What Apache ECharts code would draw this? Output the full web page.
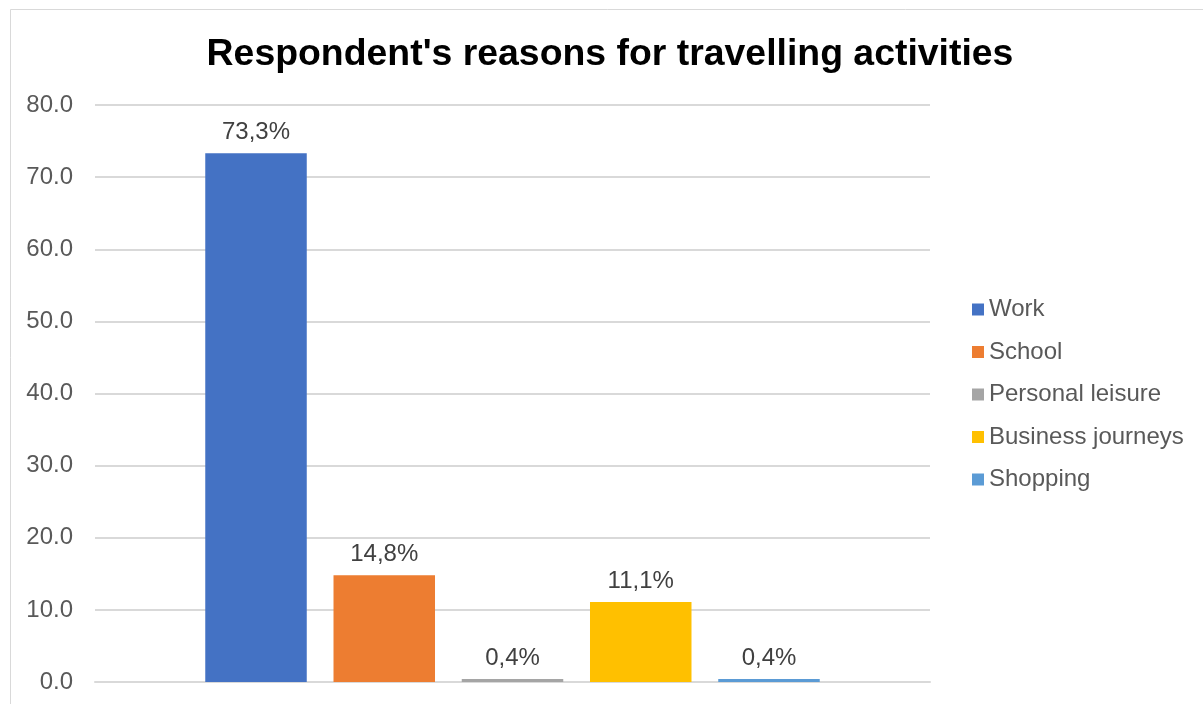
<!DOCTYPE html>
<html>
<head>
<meta charset="utf-8">
<script src="https://cdn.jsdelivr.net/npm/echarts@6/dist/echarts.min.js"></script>
<style>
  html, body { margin: 0; padding: 0; background: #fff; }
  #chart { width: 1203px; height: 704px; }
</style>
</head>
<body>
<div id="chart"></div>
<script>
// Reasons for travelling, share of respondents (%)
const categories = ['Reasons'];
const seriesNames = ['Work', 'School', 'Personal leisure', 'Business journeys', 'Shopping'];
const seriesValues = [73.3, 14.8, 0.4, 11.1, 0.4];
const seriesColors = ['#4472C4', '#ED7D31', '#A5A5A5', '#FFC000', '#5B9BD5'];
const yTicks = [0, 10, 20, 30, 40, 50, 60, 70, 80];

const chart = echarts.init(document.getElementById('chart'), null, { renderer: 'canvas' });

const font = 'Liberation Sans, Arial, sans-serif';

chart.setOption({
  animation: false,
  backgroundColor: '#ffffff',
  title: {
    text: "Respondent's reasons for travelling activities",
    left: 605,
    textAlign: 'center',
    top: 31,
    textStyle: { fontFamily: font, fontSize: 37.4, fontWeight: 'bold', color: '#000000' }
  },
  graphic: [{
    type: 'rect',
    shape: { x: 10.5, y: 9.5, width: 1200, height: 700 },
    style: { fill: 'none', stroke: '#d9d9d9', lineWidth: 1 },
    silent: true
  }],
  legend: {
    orient: 'vertical',
    left: 972,
    top: 297.5,
    padding: 0,
    itemWidth: 12,
    itemHeight: 12,
    itemGap: 18.5,
    icon: 'rect',
    textStyle: { fontFamily: font, fontSize: 24, color: '#595959' },
    data: seriesNames
  },
  grid: { left: 95, right: 273, top: 105, bottom: 22, containLabel: false },
  xAxis: {
    type: 'category',
    data: categories,
    axisLine: { show: true, lineStyle: { color: '#d9d9d9', width: 2 } },
    axisTick: { show: false },
    axisLabel: { show: false }
  },
  yAxis: {
    type: 'value',
    min: yTicks[0],
    max: yTicks[yTicks.length - 1],
    interval: 10,
    axisLine: { show: false },
    axisTick: { show: false },
    splitLine: { lineStyle: { color: '#d9d9d9', width: 2 } },
    axisLabel: {
      fontFamily: font, fontSize: 24, color: '#595959', margin: 22,
      formatter: v => v.toFixed(1)
    }
  },
  series: seriesNames.map((name, i) => ({
    name: name,
    type: 'bar',
    data: [seriesValues[i]],
    barWidth: 101.5,
    barGap: '26.35%',
    itemStyle: { color: seriesColors[i] },
    label: {
      show: true,
      position: 'top',
      distance: 9,
      fontFamily: font,
      fontSize: 24,
      color: '#404040',
      formatter: p => p.value.toFixed(1).replace('.', ',') + '%'
    }
  }))
});
</script>
</body>
</html>
